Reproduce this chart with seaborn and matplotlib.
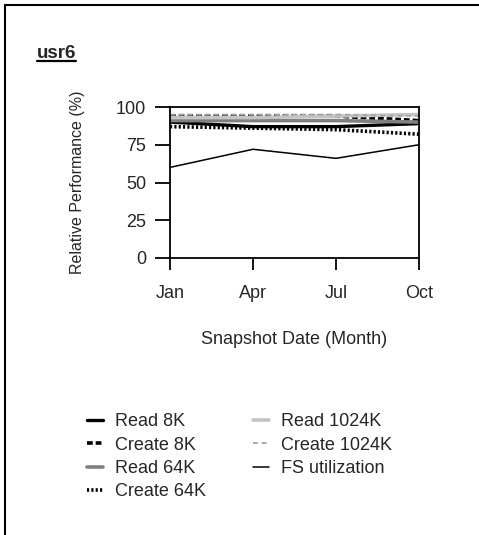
import matplotlib
matplotlib.use("Agg")
import matplotlib.pyplot as plt
from matplotlib.lines import Line2D
import pandas as pd
import seaborn as sns

# data
months = ["Jan", "Apr", "Jul", "Oct"]
read_8k = [90, 87, 87, 89]
create_8k = [94, 94, 94, 91]
read_64k = [91, 91, 91, 90]
create_64k = [87, 86, 85, 82]
read_1024k = [93, 93, 94, 95]
create_1024k = [95, 95, 95, 94]
fs_util = [60, 72, 66, 75]
y_ticks = [0, 25, 50, 75, 100]

series = [
    ("Read 8K", read_8k, dict(color="black", lw=2.4, ls="-")),
    ("Create 8K", create_8k, dict(color="black", lw=2.6, ls=(0, (1.6, 0.8)))),
    ("Read 64K", read_64k, dict(color="#808080", lw=2.6, ls="-")),
    ("Create 64K", create_64k, dict(color="black", lw=2.6, ls=(0, (0.6, 0.6)))),
    ("Read 1024K", read_1024k, dict(color="#c4c4c4", lw=2.6, ls="-")),
    ("Create 1024K", create_1024k, dict(color="#a8a8a8", lw=1.4, ls=(0, (2.5, 2)))),
    ("FS utilization", fs_util, dict(color="black", lw=1.1, ls="-")),
]

sns.set_style("white")
plt.rcParams["font.family"] = ["Liberation Sans", "DejaVu Sans"]
fs = 13

fig = plt.figure(figsize=(4.79, 5.35), dpi=100)
ax = fig.add_axes([170 / 479, 1 - 258 / 535, 249 / 479, 151 / 535])

xpos = list(range(len(months)))
for name, vals, st in series:
    df = pd.DataFrame({"x": xpos, "y": vals})
    sns.lineplot(data=df, x="x", y="y", ax=ax, color=st["color"],
                 linewidth=st["lw"], linestyle=st["ls"], label=name)
if ax.get_legend() is not None:
    ax.get_legend().remove()

ax.set_xlim(0, 3)
ax.set_ylim(0, 100)
ax.set_xticks(xpos)
ax.set_xticklabels(months)
ax.set_yticks(y_ticks)
for sp in ax.spines.values():
    sp.set_color("black")
    sp.set_linewidth(1.3)
ax.tick_params(axis="y", direction="out", length=10.8, width=1.3,
               labelsize=fs, pad=6.5, left=True, color="black")
ax.tick_params(axis="x", direction="out", length=8.6, width=1.3,
               labelsize=fs, pad=11, bottom=True, color="black")
ax.set_xlabel("Snapshot Date (Month)", fontsize=fs, labelpad=21)
ax.set_ylabel("Relative Performance (%)", fontsize=11.5, labelpad=22)

# legend
handles, labels = ax.get_legend_handles_labels()
fig.legend(handles, labels, ncol=2, frameon=False, fontsize=fs,
           loc="upper left", bbox_to_anchor=(87 / 479, 1 - 413 / 535),
           borderaxespad=0, borderpad=0, handlelength=0.9,
           handletextpad=0.66, columnspacing=2.6, labelspacing=0.36)

# title, bold and underlined
t = fig.text(37 / 479, 1 - 53 / 535, "usr6", fontsize=13.5, fontweight="bold",
             ha="left", va="center")
fig.canvas.draw()
bb = t.get_window_extent().transformed(fig.transFigure.inverted())
fig.add_artist(Line2D([bb.x0, bb.x1], [bb.y0 + 0.001, bb.y0 + 0.001],
                      transform=fig.transFigure, color="black", lw=1.6))

# outer frame (top and left only)
fig.add_artist(Line2D([5 / 479, 5 / 479], [0, 1 - 5 / 535],
                      transform=fig.transFigure, color="black", lw=1.5))
fig.add_artist(Line2D([5 / 479, 1], [1 - 5 / 535, 1 - 5 / 535],
                      transform=fig.transFigure, color="black", lw=1.5))

fig.savefig("out.png", dpi=100)
